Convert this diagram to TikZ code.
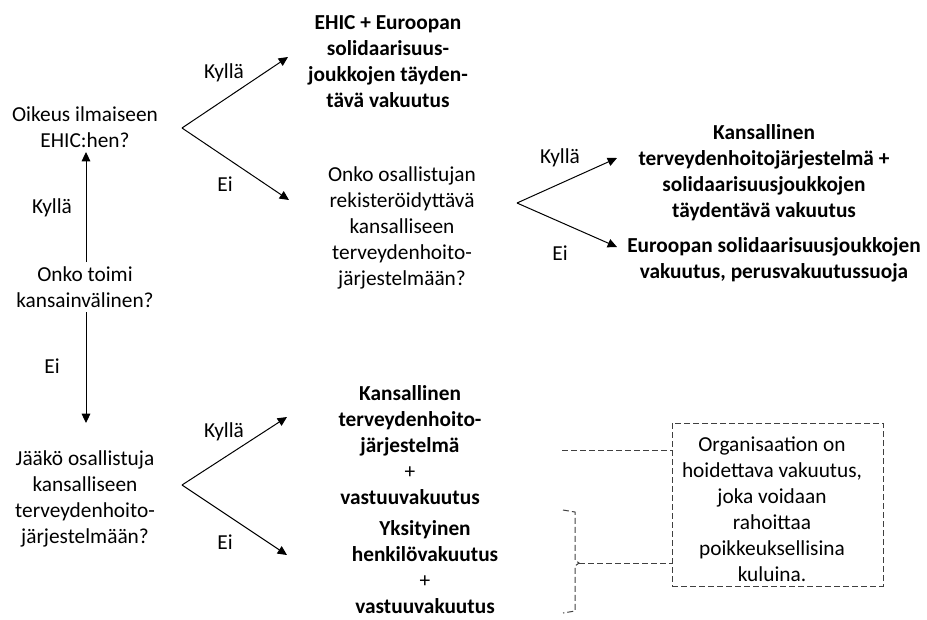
\documentclass[tikz,border=0pt]{standalone}
\usepackage{fontspec}
\setmainfont{Carlito}
\usetikzlibrary{arrows.meta}
\begin{document}
\begin{tikzpicture}[x=0.75pt,y=-0.75pt,
  txt/.style={font=\fontsize{16}{19.5}\selectfont, align=center, inner sep=0pt},
  btxt/.style={font=\fontsize{16}{19.5}\selectfont\bfseries, align=center, inner sep=0pt},
  arr/.style={line width=0.75pt, -{Triangle[length=7pt,width=6.5pt]}},
  dline/.style={line width=0.75pt, black!75, dash pattern=on 4.5pt off 2.25pt},
  dbox/.style={draw, line width=0.75pt, black!75, dash pattern=on 4.5pt off 2.25pt,
    minimum width=158.25pt, minimum height=122.25pt, inner sep=0pt}]
\useasboundingbox (0,0) rectangle (927,619);

% questions
\node[txt] (q1) at (85,287.5) {Onko toimi\\kansainvälinen?};
\node[txt] (q2) at (85,127) {Oikeus ilmaiseen\\EHIC:hen?};
\node[txt] (q3) at (85,499) {Jääkö osallistuja\\kansalliseen\\terveydenhoito-\\järjestelmään?};
\node[txt] (q4) at (402,227.5) {Onko osallistujan\\rekisteröidyttävä\\kansalliseen\\terveydenhoito-\\järjestelmään?};

% results
\node[btxt] (r1) at (388,61.5) {EHIC + Euroopan\\solidaarisuus-\\joukkojen täyden-\\tävä vakuutus};
\node[btxt] (r2) at (764,172.5) {Kansallinen\\terveydenhoitojärjestelmä +\\solidaarisuusjoukkojen\\täydentävä vakuutus};
\node[btxt] (r3) at (774,260) {Euroopan solidaarisuusjoukkojen\\vakuutus, perusvakuutussuoja};
\node[btxt] (r4) at (410,445) {Kansallinen\\terveydenhoito-\\järjestelmä\\{\mdseries +}\\vastuuvakuutus};
\node[btxt] (r5) at (425,567) {Yksityinen\\henkilövakuutus\\{\mdseries +}\\vastuuvakuutus};

% note box
\node[dbox] (note) at (777.5,504.5) {};
\node[txt] (notetxt) at (772,509) {Organisaation on\\hoidettava vakuutus,\\joka voidaan\\rahoittaa\\poikkeuksellisina\\kuluina.};

% labels
\node[txt] (l1) at (52,208) {Kyllä};
\node[txt] (l2) at (52,366) {Ei};
\node[txt] (l3) at (224,73) {Kyllä};
\node[txt] (l4) at (225,184) {Ei};
\node[txt] (l5) at (560,158) {Kyllä};
\node[txt] (l6) at (560,253) {Ei};
\node[txt] (l7) at (224,432) {Kyllä};
\node[txt] (l8) at (225,542) {Ei};

% connector points
\coordinate (s1) at (86,262); \coordinate (e1) at (86,152);
\coordinate (s2) at (86,312); \coordinate (e2) at (86,423);
\coordinate (ap1) at (182,128); \coordinate (u1) at (288,57); \coordinate (d1) at (289,200);
\coordinate (ap2) at (517,203); \coordinate (u2) at (617,158); \coordinate (d2) at (617,247);
\coordinate (ap3) at (182,485); \coordinate (u3) at (287,417); \coordinate (d3) at (287,555);

\draw[arr] (s1) -- (e1);
\draw[arr] (s2) -- (e2);
\draw[arr] (ap1) -- (u1);
\draw[arr] (ap1) -- (d1);
\draw[arr] (ap2) -- (u2);
\draw[arr] (ap2) -- (d2);
\draw[arr] (ap3) -- (u3);
\draw[arr] (ap3) -- (d3);

% dashed links
\coordinate (k1) at (562,450);
\draw[dline] (k1) -- (k1 -| note.west);
\coordinate (bt) at (579,563);
\draw[dline] (563,510) -- (575,512) -- (575,560) -- (bt) -- (575,566) -- (575,611) -- (563,613);
\draw[dline] (bt) -- (bt -| note.west);
\end{tikzpicture}
\end{document}
